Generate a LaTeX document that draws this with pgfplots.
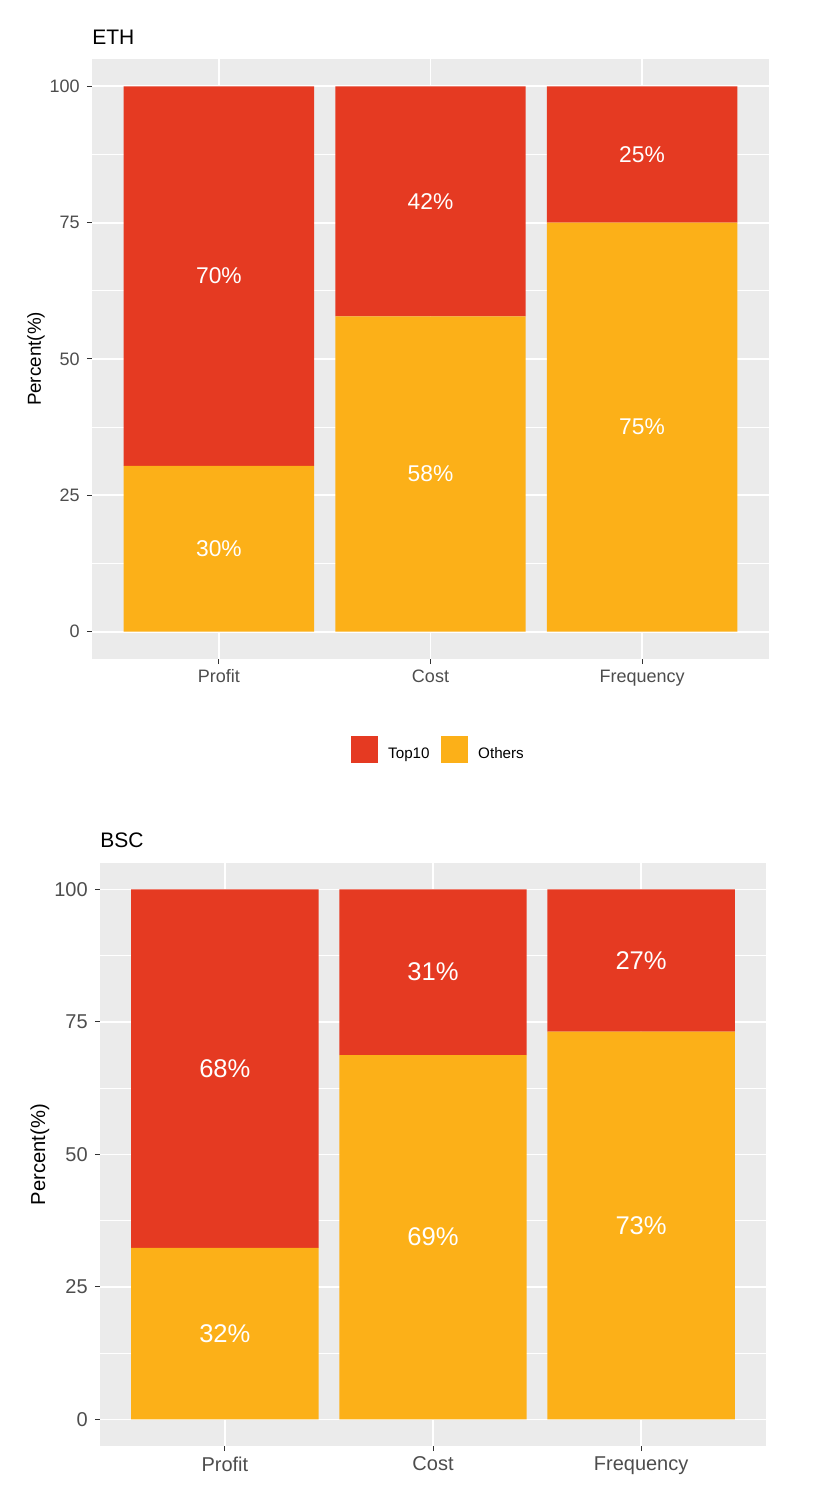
\documentclass[border=0pt]{standalone}
\usepackage{fontspec}
\setmainfont{Liberation Sans}
\usepackage{pgfplots}
\pgfplotsset{compat=1.18}
\definecolor{topred}{HTML}{E53A22}
\definecolor{othorange}{HTML}{FCB018}
\definecolor{bggray}{HTML}{EBEBEB}
\definecolor{gr30}{HTML}{4D4D4D}
\definecolor{gr20}{HTML}{333333}
\pgfplotsset{
  ggbase/.style={
    scale only axis,
    anchor=south west,
    xmin=0.4, xmax=3.6, ymin=-5, ymax=105,
    enlargelimits=false,
    xtick={1,2,3},
    xticklabels={Profit,Cost,Frequency},
    ytick={0,25,50,75,100},
    minor ytick={12.5,37.5,62.5,87.5},
    grid=both,
    major grid style={white, line width=0.9pt},
    minor grid style={white, line width=0.45pt},
    minor tick length=0pt,
    major tick length=2.6pt,
    tick align=outside,
    tick pos=left,
    major tick style={gr20, line width=0.5pt},
    axis line style={draw=none},
    axis background/.style={fill=bggray},
    tick label style={text=gr30},
    xticklabel style={yshift=0.8pt},
    /pgf/number format/assume math mode=true,
    title style={at={(rel axis cs:0,1)}, anchor=base west, inner sep=0pt, text=black},
    every axis y label/.style={at={(rel axis cs:0,0.5)}, rotate=90, anchor=center, text=black},
  },
  labaxis/.style={
    scale only axis, anchor=south west, hide axis,
    xmin=0.4, xmax=3.6, ymin=-5, ymax=105,
  },
}
\begin{document}
\begin{tikzpicture}
\path[use as bounding box] (0pt,0pt) rectangle (409pt,746pt);
% ---------------- ETH ----------------
\begin{axis}[ggbase,
  at={(46pt,416.5pt)}, width=338.5pt, height=300pt,
  ybar stacked, bar width=0.9,
  title={ETH},
  title style={yshift=1pt, font=\fontsize{10.5}{12}\selectfont},
  ylabel={Percent(\%)},
  ylabel style={yshift=28pt, font=\fontsize{9.4}{11}\selectfont},
  tick label style={font=\fontsize{9}{10}\selectfont},
  legend columns=2,
  reverse legend,
  legend style={at={(0.512,-0.1517)}, anchor=center, draw=none, fill=none,
    font=\fontsize{7.6}{9}\selectfont,
    /tikz/every even column/.append style={column sep=4.5pt},
    nodes={inner sep=1.2pt}},
  legend image code/.code={\fill[#1] (0pt,-4.05pt) rectangle (13.5pt,9.45pt);\path (17.4pt,2.7pt);},
]
\addplot[fill=othorange, draw=none] coordinates {(1,30.4) (2,57.8) (3,75.0)};
\addlegendentry{Others}
\addplot[fill=topred, draw=none] coordinates {(1,69.6) (2,42.2) (3,25.0)};
\addlegendentry{Top10}
\end{axis}
\begin{axis}[labaxis, at={(46pt,416.5pt)}, width=338.5pt, height=300pt]
\addplot[only marks, mark=*, mark size=0pt, draw=none, fill=none,
  nodes near coords, point meta=explicit symbolic,
  every node near coord/.append style={anchor=center, text=white,
    font=\fontsize{11.4}{13}\selectfont}]
  coordinates {(1,15.2)[30\%] (2,28.9)[58\%] (3,37.5)[75\%]
               (1,65.2)[70\%] (2,78.9)[42\%] (3,87.5)[25\%]};
\end{axis}
% ---------------- BSC ----------------
\begin{axis}[ggbase,
  at={(50pt,23pt)}, width=333pt, height=291.5pt,
  ybar stacked, bar width=0.9,
  title={BSC},
  title style={yshift=1.5pt, font=\fontsize{10.5}{12}\selectfont},
  ylabel={Percent(\%)},
  ylabel style={yshift=30pt, font=\fontsize{10.1}{12}\selectfont},
  tick label style={font=\fontsize{10}{11}\selectfont},
]
\addplot[fill=othorange, draw=none] coordinates {(1,32.4) (2,68.75) (3,73.2)};
\addplot[fill=topred, draw=none] coordinates {(1,67.6) (2,31.25) (3,26.8)};
\end{axis}
\begin{axis}[labaxis, at={(50pt,23pt)}, width=333pt, height=291.5pt]
\addplot[only marks, mark=*, mark size=0pt, draw=none, fill=none,
  nodes near coords, point meta=explicit symbolic,
  every node near coord/.append style={anchor=center, text=white,
    font=\fontsize{12.8}{14}\selectfont}]
  coordinates {(1,16.2)[32\%] (2,34.4)[69\%] (3,36.6)[73\%]
               (1,66.2)[68\%] (2,84.4)[31\%] (3,86.6)[27\%]};
\end{axis}
\end{tikzpicture}
\end{document}
